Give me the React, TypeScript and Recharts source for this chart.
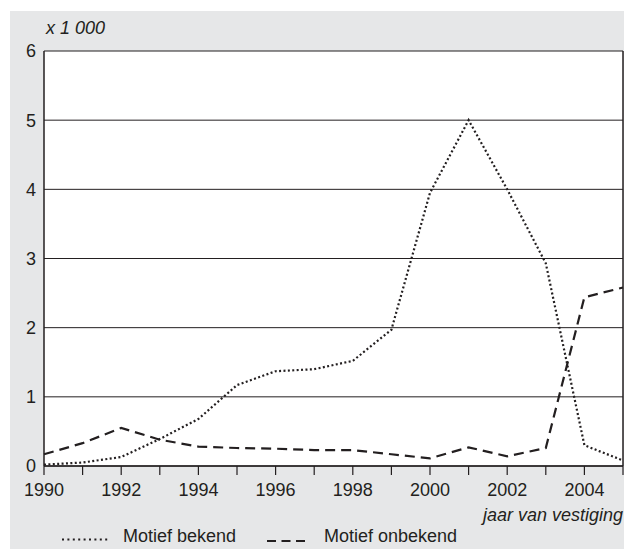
import React from 'react';
import { LineChart, Line, XAxis, YAxis, CartesianGrid, ReferenceLine, Legend, Label } from 'recharts';

const years = [1990, 1991, 1992, 1993, 1994, 1995, 1996, 1997, 1998, 1999, 2000, 2001, 2002, 2003, 2004, 2005];
const motiefBekend = [0.02, 0.05, 0.13, 0.39, 0.68, 1.17, 1.37, 1.4, 1.52, 1.97, 3.95, 5.0, 4.0, 2.93, 0.3, 0.08];
const motiefOnbekend = [0.17, 0.33, 0.55, 0.38, 0.28, 0.26, 0.25, 0.23, 0.23, 0.17, 0.11, 0.27, 0.14, 0.26, 2.44, 2.58];
const yTicks = [0, 1, 2, 3, 4, 5, 6];
const xLabelYears = [1990, 1992, 1994, 1996, 1998, 2000, 2002, 2004];
const seriesNames = ['Motief bekend', 'Motief onbekend'];
const yUnitLabel = 'x 1 000';
const xAxisTitle = 'jaar van vestiging';

const data = years.map((y, i) => ({ year: y, bekend: motiefBekend[i], onbekend: motiefOnbekend[i] }));

const FONT = '"Liberation Sans", Arial, Helvetica, sans-serif';
const INK = '#231f20';

const renderLegend = () => (
  <svg width={624} height={26} style={{ display: 'block' }}>
    <line x1={62} y1={14.5} x2={109} y2={14.5} stroke={INK} strokeWidth={2} strokeDasharray="2 3.4" />
    <text x={123} y={16.5} fontSize={18} fontFamily={FONT} fill={INK}>{seriesNames[0]}</text>
    <line x1={267} y1={16} x2={305} y2={16} stroke={INK} strokeWidth={2} strokeDasharray="9 5.5" />
    <text x={324} y={16.5} fontSize={18} fontFamily={FONT} fill={INK}>{seriesNames[1]}</text>
  </svg>
);

export default function App() {
  return (
    <div style={{ position: 'relative', width: 624, height: 549, overflow: 'hidden' }}>
      <style>{'body{margin:0;overflow:hidden}'}</style>
      <div style={{ position: 'absolute', left: 10, top: 11, width: 614, height: 538, background: '#e6e7e8' }} />
      <div style={{ position: 'absolute', left: 0, top: 0 }}>
        <LineChart width={624} height={549} data={data} margin={{ top: 51, right: 1, bottom: 43, left: 0 }}>
          <CartesianGrid vertical={false} fill="#ffffff" fillOpacity={1} stroke={INK} strokeWidth={1} />
          <XAxis
            dataKey="year"
            type="number"
            domain={[1990, 2005]}
            ticks={years}
            interval={0}
            height={40}
            tickSize={9}
            tickMargin={8}
            tickFormatter={(v: number) => (xLabelYears.includes(v) ? String(v) : '')}
            tick={{ fontSize: 18, fill: INK, fontFamily: FONT }}
            axisLine={{ stroke: INK, strokeWidth: 1.5 }}
            tickLine={{ stroke: INK, strokeWidth: 1.2 }}
          >
            <Label
              content={(props: any) => {
                const vb = props.viewBox || { x: 44, y: 466, width: 579, height: 40 };
                return (
                  <text x={vb.x + vb.width} y={vb.y + vb.height + 15} textAnchor="end" fontSize={18} fontStyle="italic" fontFamily={FONT} fill={INK}>
                    {xAxisTitle}
                  </text>
                );
              }}
            />
          </XAxis>
          <YAxis
            type="number"
            domain={[0, 6]}
            ticks={yTicks}
            width={44}
            tickLine={false}
            tickSize={6}
            tickMargin={2}
            tick={{ fontSize: 18, fill: INK, fontFamily: FONT }}
            axisLine={{ stroke: INK, strokeWidth: 1.5 }}
          >
            <Label
              content={(props: any) => {
                const vb = props.viewBox || { x: 0, y: 51, width: 44, height: 415 };
                return (
                  <text x={vb.x + vb.width + 2} y={vb.y - 17} fontSize={18} fontStyle="italic" fontFamily={FONT} fill={INK}>
                    {yUnitLabel}
                  </text>
                );
              }}
            />
          </YAxis>
          <ReferenceLine x={2005} stroke={INK} strokeWidth={1.5} />
          <Legend
            layout="horizontal"
            verticalAlign="middle"
            align="center"
            content={renderLegend}
            wrapperStyle={{ position: 'absolute', left: 0, top: 525, width: 624, height: 26 }}
          />
          <Line
            type="linear"
            dataKey="bekend"
            name={seriesNames[0]}
            stroke={INK}
            strokeWidth={2.2}
            strokeDasharray="2 2.4"
            dot={false}
            activeDot={false}
            isAnimationActive={false}
          />
          <Line
            type="linear"
            dataKey="onbekend"
            name={seriesNames[1]}
            stroke={INK}
            strokeWidth={2.2}
            strokeDasharray="10 6"
            dot={false}
            activeDot={false}
            isAnimationActive={false}
          />
        </LineChart>
      </div>
    </div>
  );
}
